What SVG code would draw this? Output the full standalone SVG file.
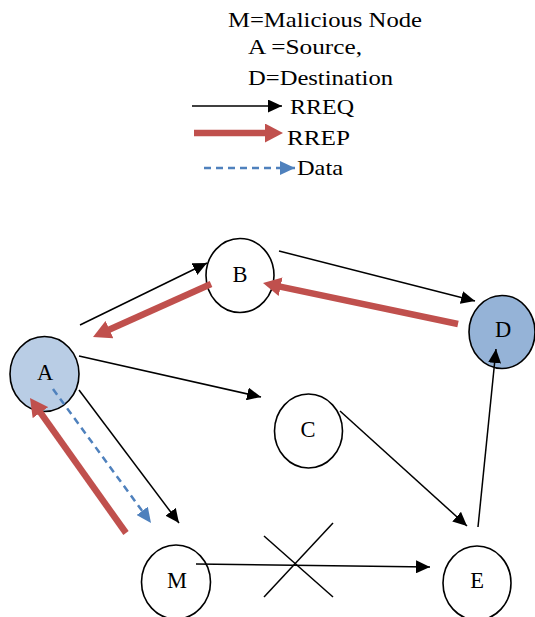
<svg xmlns="http://www.w3.org/2000/svg" width="535" height="617" viewBox="0 0 535 617">
  <style>
    .node { stroke: #000; stroke-width: 1.6; fill: #fff; }
    .src { fill: #B9CDE5; }
    .dst { fill: #95B3D7; }
    .lbl { font-family: "Liberation Serif", "Times New Roman", serif; font-size: 21px; fill: #000; }
    .nlbl { text-anchor: middle; font-size: 22.5px; }
    .req { stroke: #000; stroke-width: 1.5; fill: none; marker-end: url(#ahBlack); }
    .rep { stroke: #C0504D; stroke-width: 6.5; fill: none; marker-end: url(#ahRed); }
    .data { stroke: #4F81BD; stroke-width: 2.5; stroke-dasharray: 7 5; fill: none; marker-end: url(#ahBlue); }
    .cross { stroke: #000; stroke-width: 1.5; fill: none; }
  </style>
  <defs>
    <marker id="ahBlack" viewBox="0 0 14 13" refX="14" refY="6.5" markerWidth="14" markerHeight="13" markerUnits="userSpaceOnUse" orient="auto">
      <path d="M0,0 L14,6.5 L0,13 z" fill="#000"/>
    </marker>
    <marker id="ahRed" viewBox="0 0 18 19" refX="3" refY="9.5" markerWidth="18" markerHeight="19" markerUnits="userSpaceOnUse" orient="auto">
      <path d="M0,0 L18,9.5 L0,19 z" fill="#C0504D"/>
    </marker>
    <marker id="ahBlue" viewBox="0 0 15 14" refX="15" refY="7" markerWidth="15" markerHeight="14" markerUnits="userSpaceOnUse" orient="auto">
      <path d="M0,0 L15,7 L0,14 z" fill="#4F81BD"/>
    </marker>
  </defs>

  <!-- legend -->
  <g id="legend">
    <text class="lbl" x="228" y="27" textLength="194" lengthAdjust="spacingAndGlyphs">M=Malicious Node</text>
    <text class="lbl" x="248" y="54" textLength="114" lengthAdjust="spacingAndGlyphs">A =Source,</text>
    <text class="lbl" x="248" y="85" textLength="145" lengthAdjust="spacingAndGlyphs">D=Destination</text>
    <path class="req" d="M192,106 L282,106"/>
    <text class="lbl" x="290" y="114" textLength="64" lengthAdjust="spacingAndGlyphs">RREQ</text>
    <path class="rep" d="M194,133 L268,133"/>
    <text class="lbl" x="287" y="145" textLength="63" lengthAdjust="spacingAndGlyphs">RREP</text>
    <path class="data" d="M204,168 L295,168"/>
    <text class="lbl" x="297" y="175" textLength="46" lengthAdjust="spacingAndGlyphs">Data</text>
  </g>

  <!-- nodes -->
  <g id="node-A">
    <ellipse class="node src" cx="44.5" cy="374" rx="34.5" ry="37.5"/>
    <text class="lbl nlbl" x="45" y="380">A</text>
  </g>
  <g id="node-B">
    <ellipse class="node" cx="240" cy="275.5" rx="34" ry="37"/>
    <text class="lbl nlbl" x="240" y="282">B</text>
  </g>
  <g id="node-C">
    <ellipse class="node" cx="308.5" cy="431" rx="34" ry="37"/>
    <text class="lbl nlbl" x="308" y="437">C</text>
  </g>
  <g id="node-D">
    <ellipse class="node dst" cx="502" cy="332" rx="33" ry="36.5"/>
    <text class="lbl nlbl" x="503" y="337">D</text>
  </g>
  <g id="node-M">
    <ellipse class="node" cx="176" cy="582" rx="34.5" ry="37"/>
    <text class="lbl nlbl" x="177" y="588">M</text>
  </g>
  <g id="node-E">
    <ellipse class="node" cx="477" cy="583" rx="34" ry="37"/>
    <text class="lbl nlbl" x="477" y="588">E</text>
  </g>

  <!-- connectors -->
  <g id="connectors">
    <path class="req" d="M80,325 L207,263"/>
    <path class="req" d="M279,251 L475,301"/>
    <path class="req" d="M79,356 L261,397"/>
    <path class="req" d="M79,390 L179,523"/>
    <path class="req" d="M196,564 L430,567"/>
    <path class="req" d="M340,411 L467,526"/>
    <path class="req" d="M478,527 L496,349"/>
    <path class="data" d="M53,389 L151,523"/>
    <path class="rep" d="M211,284 L106.7,330.8"/>
    <path class="rep" d="M458,324 L277.7,286.1"/>
    <path class="rep" d="M126,533 L38.7,410.2"/>
  </g>

  <!-- broken link mark on M to E -->
  <g id="broken-link">
    <path class="cross" d="M264,536 L333,597"/>
    <path class="cross" d="M264,597 L333,523"/>
  </g>
</svg>
